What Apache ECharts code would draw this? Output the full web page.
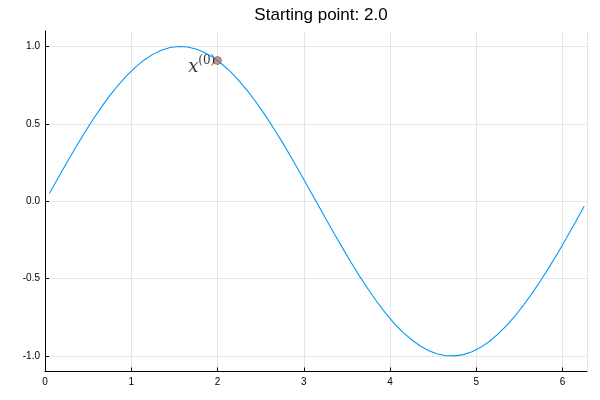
<!DOCTYPE html>
<html>
<head>
<meta charset="utf-8">
<script src="https://cdn.jsdelivr.net/npm/echarts@6/dist/echarts.min.js"></script>
<style>html,body{margin:0;padding:0;background:#fff}#c{width:600px;height:400px}</style>
</head>
<body>
<div id="c"></div>
<script>
const titleText = 'Starting point: 2.0';
const xs = [0.05,0.15,0.25,0.35,0.45,0.55,0.65,0.75,0.85,0.95,1.05,1.15,1.25,1.35,1.45,1.55,1.65,1.75,1.85,1.95,2.05,2.15,2.25,2.35,2.45,2.55,2.65,2.75,2.85,2.95,3.05,3.15,3.25,3.35,3.45,3.55,3.65,3.75,3.85,3.95,4.05,4.15,4.25,4.35,4.45,4.55,4.65,4.75,4.85,4.95,5.05,5.15,5.25,5.35,5.45,5.55,5.65,5.75,5.85,5.95,6.05,6.15,6.25];
const ys = [0.05,0.149,0.247,0.343,0.435,0.523,0.605,0.682,0.751,0.813,0.867,0.913,0.949,0.976,0.993,1.0,0.997,0.984,0.961,0.929,0.887,0.837,0.778,0.711,0.638,0.558,0.472,0.382,0.287,0.19,0.091,-0.008,-0.108,-0.207,-0.303,-0.397,-0.487,-0.572,-0.651,-0.724,-0.79,-0.847,-0.895,-0.935,-0.966,-0.987,-0.998,-0.999,-0.991,-0.972,-0.944,-0.906,-0.859,-0.803,-0.74,-0.669,-0.592,-0.509,-0.421,-0.329,-0.233,-0.134,-0.033];
const startX = [2.0];
const startY = [0.909];
const xTicks = [0,1,2,3,4,5,6];
const yTicks = [-1.0,-0.5,0.0,0.5,1.0];

const chart = echarts.init(document.getElementById('c'), null, {renderer:'canvas'});
const font = 'Liberation Sans, Arial, sans-serif';
chart.setOption({
  animation:false,
  backgroundColor:'#fff',
  title:{text:titleText,left:316,top:2,textAlign:'center',
    textStyle:{fontFamily:font,fontSize:17,fontWeight:'normal',color:'#000'}},
  grid:{left:45,right:13,top:31,bottom:28.5,containLabel:false},
  xAxis:{type:'value',min:0,max:6.283,interval:1,
    axisLine:{show:true,onZero:false,lineStyle:{color:'#000',width:1}},
    axisTick:{show:true,inside:true,length:4,lineStyle:{color:'#000'}},
    axisLabel:{fontFamily:font,fontSize:10,color:'#000',margin:6,
      formatter:v=>xTicks.includes(v)?String(v):'',showMaxLabel:false},
    splitLine:{show:true,lineStyle:{color:'#e6e6e6',width:1}}},
  yAxis:{type:'value',min:-1.1,max:1.1,
    axisLine:{show:true,onZero:false,lineStyle:{color:'#000',width:1}},
    axisTick:{show:true,inside:true,length:4,lineStyle:{color:'#000'},
      customValues:yTicks},
    axisLabel:{fontFamily:font,fontSize:10,color:'#000',margin:5,
      customValues:yTicks,formatter:v=>v.toFixed(1)},
    splitLine:{show:true,lineStyle:{color:'#e6e6e6',width:1}}},
  series:[
    {type:'line',data:xs.map((x,i)=>[x,ys[i]]),showSymbol:false,
     lineStyle:{color:'#009af9',width:1.1},itemStyle:{color:'#009af9'}},
    {type:'scatter',data:startX.map((x,i)=>[x,startY[i]]),symbolSize:8,
     itemStyle:{color:'#e26f46',borderColor:'#222',borderWidth:0.5},
     label:{show:true,position:'left',distance:-2,offset:[0,5],
       formatter:'{x|x}{s|(0)}',
       rich:{
         x:{fontFamily:'DejaVu Serif, serif',fontStyle:'italic',fontSize:18,color:'#000',lineHeight:22,verticalAlign:'bottom'},
         s:{fontFamily:'DejaVu Serif, serif',fontSize:12,color:'#000',lineHeight:22,verticalAlign:'top'}
       }}}
  ]
});
</script>
</body>
</html>
